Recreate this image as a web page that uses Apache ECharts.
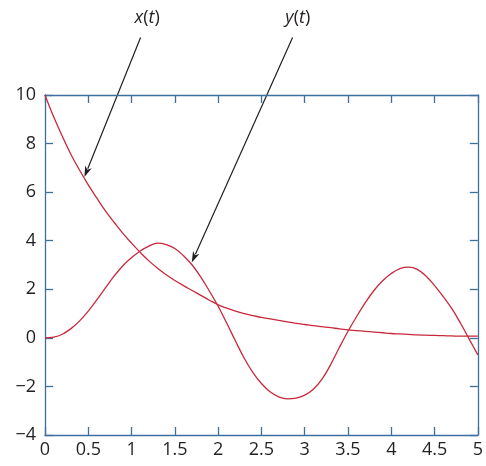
<!DOCTYPE html>
<html><head><meta charset="utf-8">
<script src="https://cdn.jsdelivr.net/npm/echarts@6/dist/echarts.min.js"></script>
<style>html,body{margin:0;padding:0;background:#fff}#c{width:486px;height:466px}</style>
</head><body><div id="c"></div>
<script>
const tValues = [0,0.1,0.2,0.3,0.4,0.5,0.6,0.7,0.8,0.9,1.0,1.1,1.2,1.3,1.4,1.5,1.6,1.7,1.8,1.9,2.0,2.1,2.2,2.3,2.4,2.5,2.6,2.7,2.8,2.9,3.0,3.1,3.2,3.3,3.4,3.5,3.6,3.7,3.8,3.9,4.0,4.1,4.2,4.3,4.4,4.5,4.6,4.7,4.8,4.9,5.0];
const xSeries = [10,9.1,8.3,7.55,6.9,6.3,5.75,5.22,4.75,4.3,3.9,3.52,3.17,2.87,2.6,2.36,2.15,1.95,1.75,1.55,1.36,1.22,1.1,1.0,0.92,0.84,0.78,0.72,0.66,0.6,0.55,0.5,0.46,0.42,0.37,0.33,0.3,0.27,0.24,0.21,0.18,0.16,0.14,0.12,0.11,0.1,0.09,0.08,0.07,0.07,0.07];
const ySeries = [0,0.03,0.15,0.38,0.7,1.1,1.57,2.07,2.55,2.97,3.3,3.58,3.78,3.9,3.84,3.68,3.38,3.0,2.5,1.92,1.3,0.6,-0.13,-0.83,-1.42,-1.88,-2.22,-2.43,-2.51,-2.48,-2.36,-2.12,-1.7,-1.1,-0.4,0.27,0.88,1.45,1.95,2.35,2.65,2.85,2.91,2.82,2.55,2.15,1.7,1.2,0.6,-0.05,-0.7];
const xTicks = ['0','0.5','1','1.5','2','2.5','3','3.5','4','4.5','5'];
const yTicks = ['−4','−2','0','2','4','6','8','10'];
// annotations: label, text anchor, line start, arrow tip (data coords)
const annotations = [
  {name:'x', text:[1.18,13.17], start:[1.104,12.37], tip:[0.455,6.62]},
  {name:'y', text:[2.92,13.17], start:[2.86,12.37], tip:[1.695,3.1]}
];

const axisBlue = '#3f6f9c';
const red = '#c8283a';
const font = '"Open Sans", "Noto Sans", sans-serif';
const chart = echarts.init(document.getElementById('c'), null, {renderer:'canvas'});
const baseX = {type:'value', min:0, max:5, interval:0.5,
  axisLine:{show:true, onZero:false, lineStyle:{color:axisBlue, width:1.3}},
  axisTick:{show:true, inside:true, length:8, lineStyle:{color:axisBlue, width:1.3}},
  splitLine:{show:false}};
const baseY = {type:'value', min:-4, max:10, interval:2,
  axisLine:{show:true, onZero:false, lineStyle:{color:axisBlue, width:1.3}},
  axisTick:{show:true, inside:true, length:8, lineStyle:{color:axisBlue, width:1.3}},
  splitLine:{show:false}};
chart.setOption({
  animation:false,
  grid:{left:45, right:4.5, top:95, bottom:31, containLabel:false},
  xAxis:[
    Object.assign({}, baseX, {position:'bottom', axisLabel:{show:true, margin:6, fontSize:18, color:'#231f20', fontFamily:font,
      formatter:(v)=>xTicks[Math.round(v/0.5)]}}),
    Object.assign({}, baseX, {position:'top', axisLabel:{show:false}})
  ],
  yAxis:[
    Object.assign({}, baseY, {position:'left', axisLabel:{show:true, margin:9, fontSize:18, color:'#231f20', fontFamily:font,
      formatter:(v)=>yTicks[Math.round((v+4)/2)]}}),
    Object.assign({}, baseY, {position:'right', axisLabel:{show:false}})
  ],
  series:[
    {type:'line', name:'x(t)', data:tValues.map((t,i)=>[t,xSeries[i]]), smooth:0.4, showSymbol:false,
     lineStyle:{color:red, width:1.3}, clip:true},
    {type:'line', name:'y(t)', data:tValues.map((t,i)=>[t,ySeries[i]]), smooth:0.4, showSymbol:false,
     lineStyle:{color:red, width:1.3}, clip:true}
  ]
});

const graphics = [];
annotations.forEach(a=>{
  const tp = chart.convertToPixel({gridIndex:0}, a.text);
  const s = chart.convertToPixel({gridIndex:0}, a.start);
  const e = chart.convertToPixel({gridIndex:0}, a.tip);
  graphics.push({type:'text', x:tp[0], y:tp[1], style:{
    text:'{i|'+a.name+'}{n|(}{i|t}{n|)}', align:'center', verticalAlign:'middle',
    rich:{i:{fontStyle:'italic', fontSize:18, fontFamily:font, fill:'#231f20'},
          n:{fontSize:18, fontFamily:font, fill:'#231f20'}}
  }});
  const dx = e[0]-s[0], dy = e[1]-s[1];
  const L = Math.sqrt(dx*dx+dy*dy), ux = dx/L, uy = dy/L;
  const hl = 11, hw = 3.5;
  const bx = e[0]-ux*hl, by = e[1]-uy*hl;
  graphics.push({type:'line', shape:{x1:s[0], y1:s[1], x2:bx+ux*2, y2:by+uy*2}, style:{stroke:'#231f20', lineWidth:1.2}});
  graphics.push({type:'polygon', shape:{points:[[e[0],e[1]],[bx-uy*hw,by+ux*hw],[bx+ux*3,by+uy*3],[bx+uy*hw,by-ux*hw]]},
    style:{fill:'#231f20'}});
});
chart.setOption({graphic:graphics});
</script></body></html>
